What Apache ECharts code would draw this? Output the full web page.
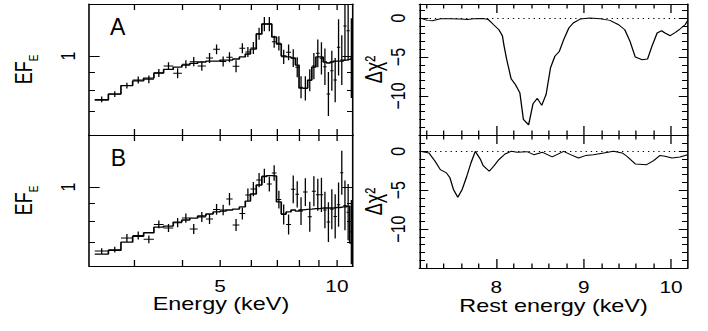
<!DOCTYPE html>
<html>
<head>
<meta charset="utf-8">
<script src="https://cdn.jsdelivr.net/npm/echarts@6/dist/echarts.min.js"></script>
<style>
  html, body { margin: 0; padding: 0; background: #fff; overflow: hidden; }
  /* the original figure is stretched sideways, so draw narrow and widen it */
  #chart { width: 545px; height: 331px; transform: scaleX(1.29908); transform-origin: 0 0; }
</style>
</head>
<body>
<div id="chart"></div>
<script>
// spectral bins (keV), shared by both spectra
const binEdges = [2.38, 2.58, 2.78, 2.98, 3.18, 3.38, 3.58, 3.79, 3.99, 4.18, 4.38, 4.60, 4.80, 5.00, 5.19,
  5.39, 5.61, 5.81, 5.99, 6.20, 6.41, 6.60, 6.80, 6.99, 7.19, 7.40, 7.62, 7.82, 7.99, 8.18, 8.41, 8.62,
  8.83, 9.03, 9.22, 9.41, 9.61, 9.80, 10.00, 10.20, 10.39, 10.59, 10.79, 11.00];

// spectrum A: data, 1-sigma error (dex), model
const fluxA = [0.755, 0.782, 0.826, 0.856, 0.860, 0.896, 0.937, 0.894, 0.948, 0.964, 0.937, 0.987, 1.044,
  0.965, 0.992, 0.936, 1.051, 1.026, 1.053, 1.155, 1.230, 1.230, 1.097, 1.086, 0.995, 1.024, 0.987, 0.930,
  0.817, 0.811, 0.855, 0.937, 1.018, 0.985, 0.933, 0.782, 0.909, 0.856, 1.058, 0.974, 1.214, 1.178, 0.987];
const errA = [0.008, 0.008, 0.008, 0.010, 0.011, 0.011, 0.011, 0.014, 0.011, 0.013, 0.013, 0.014, 0.014,
  0.014, 0.014, 0.017, 0.014, 0.014, 0.017, 0.017, 0.020, 0.020, 0.017, 0.020, 0.020, 0.022, 0.025, 0.028,
  0.031, 0.034, 0.031, 0.037, 0.039, 0.045, 0.051, 0.062, 0.056, 0.062, 0.079, 0.070, 0.098, 0.084, 0.112];
const modelA = [0.752, 0.782, 0.826, 0.851, 0.867, 0.896, 0.917, 0.931, 0.943, 0.953, 0.962, 0.968, 0.968,
  0.974, 0.974, 0.981, 0.994, 1.013, 1.046, 1.153, 1.230, 1.230, 1.131, 1.081, 1.000, 0.994, 0.987, 0.943,
  0.813, 0.813, 0.856, 0.931, 0.994, 0.994, 0.962, 0.956, 0.962, 0.968, 0.968, 0.968, 0.974, 0.978, 0.981];

// spectrum B
const fluxB = [0.661, 0.667, 0.719, 0.731, 0.713, 0.785, 0.767, 0.794, 0.818, 0.762, 0.824, 0.813, 0.865,
  0.862, 0.925, 0.782, 0.843, 0.950, 0.987, 1.046, 1.074, 1.020, 1.095, 0.922, 0.837, 0.785, 0.985, 0.954,
  0.856, 0.968, 0.825, 0.973, 0.951, 0.951, 0.862, 0.797, 0.866, 0.827, 0.892, 1.097, 0.888, 0.850, 0.747];
const errB = [0.008, 0.008, 0.011, 0.011, 0.011, 0.011, 0.011, 0.013, 0.013, 0.014, 0.014, 0.014, 0.015,
  0.015, 0.017, 0.017, 0.017, 0.018, 0.020, 0.020, 0.020, 0.021, 0.022, 0.025, 0.028, 0.028, 0.039, 0.037,
  0.039, 0.039, 0.042, 0.042, 0.045, 0.048, 0.051, 0.056, 0.056, 0.062, 0.062, 0.062, 0.070, 0.079, 0.090];
const modelB = [0.648, 0.664, 0.700, 0.727, 0.744, 0.772, 0.777, 0.797, 0.808, 0.818, 0.829, 0.840, 0.851,
  0.856, 0.862, 0.867, 0.879, 0.913, 0.956, 1.013, 1.070, 1.077, 1.074, 0.908, 0.840, 0.851, 0.862, 0.856,
  0.862, 0.865, 0.867, 0.870, 0.870, 0.873, 0.873, 0.873, 0.873, 0.876, 0.876, 0.879, 0.879, 0.884, 0.696];

// line-energy scans: delta chi^2 against rest energy
const scanTopE = [7.13, 7.21, 7.27, 7.36, 7.47, 7.59, 7.67, 7.74, 7.85, 7.91, 7.97, 8.03, 8.07, 8.09, 8.12,
  8.17, 8.22, 8.27, 8.31, 8.37, 8.42, 8.47, 8.52, 8.57, 8.62, 8.67, 8.72, 8.77, 8.83, 8.88, 8.96, 9.07,
  9.19, 9.30, 9.40, 9.47, 9.53, 9.59, 9.67, 9.73, 9.78, 9.84, 9.89, 9.93, 9.99, 10.05, 10.10, 10.16, 10.19];
const dchiTop = [0, -0.3, -0.35, -0.1, -0.1, -0.13, -0.2, -0.1, -0.05, -0.2, -0.86, -1.5, -2.27, -3.64, -5.35,
  -7.8, -8.55, -9.6, -13.0, -13.7, -11.0, -10.3, -11.2, -9.8, -6.4, -4.9, -4.3, -2.8, -1.28, -0.64, -0.13, 0,
  -0.1, -0.3, -0.86, -1.5, -3.0, -5.0, -5.35, -5.26, -3.64, -1.92, -1.63, -1.92, -2.27, -1.85, -1.41, -0.86, -0.3];
const scanBotE = [7.13, 7.23, 7.30, 7.36, 7.43, 7.47, 7.51, 7.56, 7.61, 7.66, 7.71, 7.76, 7.82, 7.85, 7.92,
  7.97, 8.03, 8.10, 8.17, 8.24, 8.35, 8.43, 8.53, 8.64, 8.77, 8.85, 8.94, 9.02, 9.11, 9.23, 9.34, 9.44,
  9.49, 9.59, 9.72, 9.80, 9.87, 9.93, 10.01, 10.10, 10.19];
const dchiBot = [0, -0.2, -1.28, -2.35, -2.77, -3.4, -4.9, -5.9, -4.9, -3.3, -1.5, 0, -1.06, -1.83, -2.56,
  -1.92, -1.06, -0.34, 0, -0.13, -0.04, -0.43, -0.13, -0.72, 0, -0.43, -0.85, -0.55, -0.43, -0.2, 0, -0.2,
  -0.6, -1.62, -1.71, -1.2, -0.55, -0.64, -0.85, -0.72, -0.43];

// ticks and labels
const specTicks = [3, 4, 5, 6, 7, 8, 9, 10];
const specLabels = [5, 10];
const fluxMajor = [1];
const fluxMinor = [0.7, 0.8, 0.9];
const restMajor = [8, 9, 10];
const restMinor = [7.2, 7.4, 7.6, 7.8, 8.2, 8.4, 8.6, 8.8, 9.2, 9.4, 9.6, 9.8, 10.2];
const dchiMajor = [-10, -5, 0];
const dchiMinor = [-14, -13, -12, -11, -9, -8, -7, -6, -4, -3, -2, -1, 1];
const panelTags = ['A', 'B'];

const ink = '#000';
const font = 'Liberation Sans, Arial, Helvetica, sans-serif';
const stretch = 708 / 545;
const lg = Math.log10;

const frameLine = { show: true, onZero: false, lineStyle: { color: ink, width: 1.2 } };

const xAxes = [], yAxes = [];
function addAxis(list, grid, pos, min, max, ticks, len, extra) {
  list.push(Object.assign({
    type: 'value', gridIndex: grid, position: pos, min: min, max: max,
    axisLine: { show: false, onZero: false },
    axisTick: { show: true, inside: true, length: len, customValues: ticks, lineStyle: { color: ink, width: 1 } },
    axisLabel: { show: false },
    splitLine: { show: false }
  }, extra || {}));
  return list.length - 1;
}
function numLabel(values, fmt, margin, rotate) {
  return { show: true, customValues: values, formatter: fmt, margin: margin, rotate: rotate || 0,
    color: ink, fontFamily: font, fontSize: 16 };
}
const minus = v => (v < 0 ? '\u2212' + (-v) : String(v));
const pow10 = v => String(Math.round(Math.pow(10, v)));
const nameStyle = { color: ink, fontFamily: font, fontSize: 18 };

// left column: spectra, log energy and log flux
function spectrumFrame(g, bottomLabels) {
  const xr = [lg(2.3), lg(11)], yr = [lg(0.6), lg(1.4)];
  const xt = specTicks.map(lg);
  const xExtra = { axisLine: frameLine };
  if (bottomLabels) {
    xExtra.axisLabel = numLabel(specLabels.map(lg), pow10, 12);
    xExtra.name = 'Energy (keV)';
    xExtra.nameLocation = 'middle';
    xExtra.nameGap = 29;
    xExtra.nameTextStyle = nameStyle;
  }
  const xi = addAxis(xAxes, g, 'bottom', xr[0], xr[1], xt, 6, xExtra);
  addAxis(xAxes, g, 'top', xr[0], xr[1], xt, 6, { axisLine: frameLine });
  const yi = addAxis(yAxes, g, 'left', yr[0], yr[1], fluxMajor.map(lg), 8.2, {
    axisLine: frameLine,
    axisLabel: numLabel(fluxMajor.map(lg), pow10, 8, 90),
    name: '{m|EF}{s|E}', nameLocation: 'middle', nameRotate: 90, nameGap: 38,
    nameTextStyle: Object.assign({
      rich: { m: { fontSize: 18, fontFamily: font, color: ink },
              s: { fontSize: 10, fontFamily: font, color: ink, padding: [15, 0, 0, 0] } } }, nameStyle)
  });
  addAxis(yAxes, g, 'left', yr[0], yr[1], fluxMinor.map(lg), 4.6);
  addAxis(yAxes, g, 'right', yr[0], yr[1], fluxMajor.map(lg), 8.2, { axisLine: frameLine });
  addAxis(yAxes, g, 'right', yr[0], yr[1], fluxMinor.map(lg), 4.6);
  return { xi, yi };
}

// right column: delta chi^2 scans
function scanFrame(g, yMax, bottomLabels) {
  const xr = [7.12, 10.19];
  const xExtra = { axisLine: frameLine };
  if (bottomLabels) {
    xExtra.axisLabel = numLabel(restMajor, String, 11);
    xExtra.name = 'Rest energy (keV)';
    xExtra.nameLocation = 'middle';
    xExtra.nameGap = 29;
    xExtra.nameTextStyle = nameStyle;
  }
  const xi = addAxis(xAxes, g, 'bottom', xr[0], xr[1], restMajor, 9, xExtra);
  addAxis(xAxes, g, 'bottom', xr[0], xr[1], restMinor, 4.5);
  addAxis(xAxes, g, 'top', xr[0], xr[1], restMajor, 9, { axisLine: frameLine });
  addAxis(xAxes, g, 'top', xr[0], xr[1], restMinor, 4.5);
  const yi = addAxis(yAxes, g, 'left', -15, yMax, dchiMajor, 6.9, {
    axisLine: frameLine,
    axisLabel: numLabel(dchiMajor, minus, 9, 90),
    name: '\u0394\u03C7\u00B2', nameLocation: 'middle', nameRotate: 90, nameGap: 25,
    nameTextStyle: nameStyle
  });
  addAxis(yAxes, g, 'left', -15, yMax, dchiMinor, 4.4);
  addAxis(yAxes, g, 'right', -15, yMax, dchiMajor, 6.9, { axisLine: frameLine });
  addAxis(yAxes, g, 'right', -15, yMax, dchiMinor, 4.4);
  return { xi, yi };
}

const axA = spectrumFrame(0, false);
const axB = spectrumFrame(1, true);
const axC = scanFrame(2, 1.8, false);
const axD = scanFrame(3, 2.1, true);

// data crosses: bin width across, error bar up and down
function crossData(flux, err) {
  return flux.map((f, i) => {
    const lo = binEdges[i], hi = binEdges[i + 1];
    return [lg(lo), lg(hi), lg(f), lg(f) - err[i], lg(f) + err[i], lg((lo + hi) / 2)];
  });
}
function stepData(model) {
  const d = [];
  model.forEach((m, i) => {
    d.push([lg(binEdges[i]), lg(m)]);
    d.push([lg(binEdges[i + 1]), lg(m)]);
  });
  return d;
}
function renderCross(params, api) {
  const l = api.coord([api.value(0), api.value(2)]);
  const r = api.coord([api.value(1), api.value(2)]);
  const b = api.coord([api.value(5), api.value(3)]);
  const t = api.coord([api.value(5), api.value(4)]);
  const st = { stroke: ink, lineWidth: 1 };
  return { type: 'group', children: [
    { type: 'line', shape: { x1: l[0], y1: l[1], x2: r[0], y2: r[1] }, style: st },
    { type: 'line', shape: { x1: b[0], y1: b[1], x2: t[0], y2: t[1] }, style: st }
  ] };
}
function crossSeries(ax, flux, err) {
  return { type: 'custom', xAxisIndex: ax.xi, yAxisIndex: ax.yi, clip: true, silent: true,
    renderItem: renderCross, encode: { x: [0, 1], y: [2] }, data: crossData(flux, err) };
}
function lineSeries(ax, data, width) {
  return { type: 'line', xAxisIndex: ax.xi, yAxisIndex: ax.yi, data: data, symbol: 'none', clip: true,
    silent: true, lineStyle: { color: ink, width: width } };
}
const zeroLine = { silent: true, symbol: 'none', label: { show: false },
  lineStyle: { color: ink, width: 1, type: [1, 3] }, data: [{ yAxis: 0 }] };

const chart = echarts.init(document.getElementById('chart'), null, { renderer: 'svg' });
chart.setOption({
  animation: false,
  backgroundColor: '#fff',
  grid: [
    { left: 68.5, top: 4, width: 203.2, height: 131, outerBoundsMode: 'none' },
    { left: 68.5, top: 135, width: 203.2, height: 131, outerBoundsMode: 'none' },
    { left: 322.8, top: 4, width: 206.6, height: 131, outerBoundsMode: 'none' },
    { left: 322.8, top: 135, width: 206.6, height: 133, outerBoundsMode: 'none' }
  ],
  xAxis: xAxes,
  yAxis: yAxes,
  graphic: panelTags.map((t, i) => ({
    type: 'text', x: 84.7 + 0.5 * i, y: [26.7, 158.2][i], scaleX: 1 / stretch, silent: true,
    style: { text: t, fill: ink, fontFamily: font, fontSize: 23, verticalAlign: 'middle' }
  })),
  series: [
    crossSeries(axA, fluxA, errA),
    lineSeries(axA, stepData(modelA), 1.3),
    crossSeries(axB, fluxB, errB),
    lineSeries(axB, stepData(modelB), 1.3),
    Object.assign(lineSeries(axC, scanTopE.map((e, i) => [e, dchiTop[i]]), 1), { markLine: zeroLine }),
    Object.assign(lineSeries(axD, scanBotE.map((e, i) => [e, dchiBot[i]]), 1), { markLine: zeroLine })
  ]
});
</script>
</body>
</html>
